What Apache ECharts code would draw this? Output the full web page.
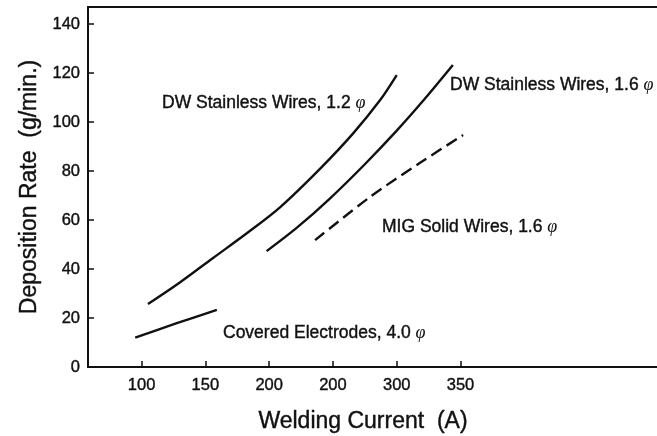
<!DOCTYPE html>
<html>
<head>
<meta charset="utf-8">
<script src="https://cdn.jsdelivr.net/npm/echarts@6/dist/echarts.min.js"></script>
<style>
html, body { margin: 0; padding: 0; background: #fff; }
#chart { width: 657px; height: 436px; }
</style>
</head>
<body>
<div id="chart"></div>
<script>
//刻度
const xTicks = [100, 150, 200, 250, 300, 350];
const xTickLabels = ['100', '150', '200', '200', '300', '350'];
const yTicks = [0, 20, 40, 60, 80, 100, 120, 140];

//曲线数据 [电流, 熔敷速度]
const dw12 = [[105, 25.7], [130, 34.5], [156, 44.5], [183, 54.8], [208.5, 65.2], [240, 81], [266, 95.5], [287, 109], [300, 119.2]];
const dw16 = [[198, 47.3], [222, 57], [248, 69], [275, 82.8], [300, 96.5], [322, 109.5], [344, 123.3]];
const mig16 = [[236, 51.8], [279, 69.4], [318, 83.3], [352, 94.7]];
const covered40 = [[95, 12], [127, 17.8], [159, 23.3]];

const seriesNames = ['DW Stainless Wires, 1.2', 'DW Stainless Wires, 1.6', 'MIG Solid Wires, 1.6', 'Covered Electrodes, 4.0'];

const FONT = '"Liberation Sans", Arial, sans-serif';
const INK = '#111';

const chart = echarts.init(document.getElementById('chart'), null, { renderer: 'canvas' });

function lineSeries(name, data, dashed) {
  return {
    name,
    type: 'line',
    data,
    smooth: 0.3,
    showSymbol: false,
    silent: true,
    lineStyle: { color: INK, width: 2.4, type: dashed ? [12, 6] : 'solid' }
  };
}

function note(text, x, y) {
  return {
    type: 'text',
    x, y,
    style: {
      text: '{t|' + text + ' }{p|φ}',
      verticalAlign: 'middle',
      rich: {
        t: { fontFamily: FONT, fontSize: 17.5, fill: INK, stroke: INK, lineWidth: 0.4 },
        p: { fontFamily: '"Liberation Serif", serif', fontStyle: 'italic', fontSize: 18, fill: INK }
      }
    }
  };
}

const tickText = { fontFamily: FONT, fontSize: 16.5, color: INK, textBorderColor: INK, textBorderWidth: 0.4 };

chart.setOption({
  backgroundColor: '#fff',
  animation: false,
  grid: { left: 88, right: 0, top: 7, bottom: 69, outerBoundsMode: 'none', containLabel: false },
  xAxis: [
    {
      type: 'value',
      min: 58,
      max: 504,
      name: 'Welding Current  (A)',
      nameLocation: 'middle',
      nameGap: 43,
      nameTextStyle: { fontFamily: FONT, fontSize: 23, color: INK, textBorderColor: INK, textBorderWidth: 0.4, padding: [0, 19, 0, 0] },
      splitLine: { show: false },
      axisLine: { lineStyle: { color: INK, width: 2 } },
      axisTick: { inside: true, length: 6, lineStyle: { color: INK, width: 1.5 }, customValues: xTicks },
      axisLabel: Object.assign({
        margin: 10,
        customValues: xTicks,
        formatter: v => xTickLabels[xTicks.indexOf(v)]
      }, tickText)
    },
    {
      type: 'value',
      position: 'top',
      min: 58,
      max: 504,
      splitLine: { show: false },
      axisLine: { show: true, lineStyle: { color: INK, width: 2 } },
      axisTick: { show: false },
      axisLabel: { show: false }
    }
  ],
  yAxis: {
    type: 'value',
    min: 0,
    max: 147,
    name: 'Deposition Rate  (g/min.)',
    nameLocation: 'middle',
    nameGap: 46,
    nameTextStyle: { fontFamily: FONT, fontSize: 23, color: INK, textBorderColor: INK, textBorderWidth: 0.4 },
    splitLine: { show: false },
    axisLine: { show: true, lineStyle: { color: INK, width: 2 } },
    axisTick: { inside: true, length: 6, lineStyle: { color: INK, width: 1.5 }, customValues: yTicks },
    axisLabel: Object.assign({ margin: 8, customValues: yTicks }, tickText)
  },
  series: [
    lineSeries(seriesNames[0], dw12, false),
    lineSeries(seriesNames[1], dw16, false),
    lineSeries(seriesNames[2], mig16, true),
    lineSeries(seriesNames[3], covered40, false)
  ],
  graphic: [
    note(seriesNames[0], 162, 103),
    note(seriesNames[1], 450, 85),
    note(seriesNames[2], 382, 227),
    note(seriesNames[3], 223, 333)
  ]
});
</script>
</body>
</html>
